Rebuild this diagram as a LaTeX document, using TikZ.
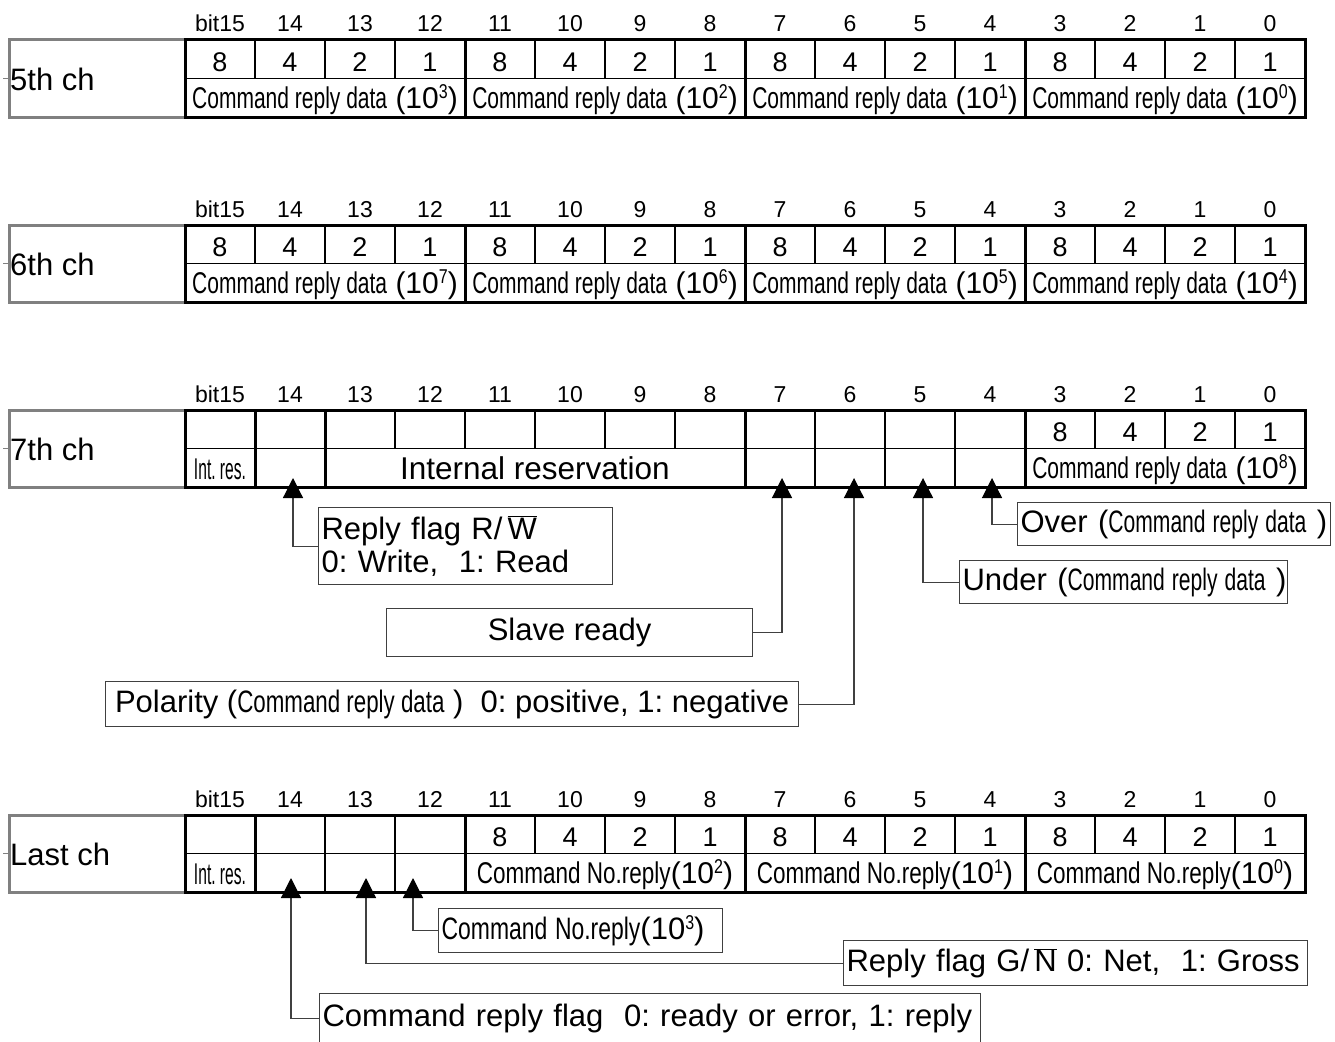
\documentclass[tikz,border=0pt]{standalone}
\usepackage{fontspec}
\setmainfont{Liberation Sans}
\usepackage{graphicx}
\usetikzlibrary{arrows.meta}
\definecolor{chgray}{RGB}{128,128,128}
\definecolor{callgray}{RGB}{64,64,64}
\frenchspacing
\newcommand{\cnd}[2][0.7]{\scalebox{#1}[1]{#2}}
\newcommand{\sups}[1]{\raisebox{10pt}{\fontsize{20}{20}\selectfont\cnd[0.8]{#1}}}
\newcommand{\crd}[1]{\cnd{Command reply data} (10\sups{#1})}
\newcommand{\cnr}[1]{\cnd[0.75]{Command No.reply}(10\sups{#1})}

\begin{document}
\begin{tikzpicture}[x=1pt, y=-1pt,
  every node/.style={inner sep=0pt},
  thickline/.style={line width=3pt},
  cellline/.style={line width=1.2pt},
  chbox/.style={draw=chgray, line width=3pt},
  chlabel/.style={anchor=base west, font=\fontsize{31}{36}\selectfont},
  bitno/.style={anchor=base, font=\fontsize{23}{26}\selectfont},
  digit/.style={anchor=base, font=\fontsize{27}{30}\selectfont},
  field/.style={anchor=base, font=\fontsize{30}{34}\selectfont},
  note/.style={draw=callgray, line width=1.2pt, anchor=north west, inner xsep=3pt,
    font=\fontsize{31}{33}\selectfont},
  pointer/.style={draw=callgray, line width=1.2pt, -{Triangle[width=20pt,length=20pt,color=black]}}]
  \useasboundingbox (0,0) rectangle (1335,1041);

  % common part of the four channel rows
  \foreach \ry/\nm/\lab in {40/r5/5th ch,225/r6/6th ch,410/r7/7th ch,815/rl/Last ch}{
    \draw[chbox] (185,\ry) -- (9,\ry) -- (9,\ry+77) -- (185,\ry+77);
    \draw[chbox, line width=1pt] (3,\ry+38.5) -- (9,\ry+38.5);
    \node[chlabel] (\nm) at (10,\ry+50) {\lab};
    \foreach \b [count=\i from 0] in {bit15,14,13,12,11,10,9,8,7,6,5,4,3,2,1,0}
      \node[bitno] (\nm-n\i) at (220+70*\i,\ry-8) {\b};
    \foreach \i in {1,...,15}
      \draw[cellline] (185+70*\i,\ry) -- (185+70*\i,\ry+38.5);
    \draw[cellline] (185,\ry+38.5) -- (1305,\ry+38.5);
  }

  % 5th ch and 6th ch
  \foreach \ry/\nm/\hi in {40/r5/3,225/r6/7}{
    \foreach \g [count=\k from 0] in {185,465,745,1025}{
      \pgfmathtruncatemacro\ex{\hi-\k}
      \node[field] (\nm-f\k) at (\g+140,\ry+68) {\crd{\ex}};
      \foreach \v [count=\j from 0] in {8,4,2,1}
        \node[digit] (\nm-d\k-\j) at (\g+35+70*\j,\ry+31) {\v};
    }
    \foreach \x in {465,745,1025}
      \draw[thickline] (\x,\ry) -- (\x,\ry+77);
    \draw[thickline] (185,\ry) rectangle (1305,\ry+77);
  }

  % 7th ch
  \foreach \v [count=\j from 0] in {8,4,2,1}
    \node[digit] (r7-d\j) at (1060+70*\j,441) {\v};
  \foreach \x in {815,885,955}
    \draw[cellline] (\x,448.5) -- (\x,487);
  \foreach \x in {255,325,745,1025}
    \draw[thickline] (\x,410) -- (\x,487);
  \draw[thickline] (185,410) rectangle (1305,487);
  \node[field] (r7-ir) at (220,479) {\cnd[0.52]{Int. res.}};
  \node[field, font=\fontsize{31.5}{33}\selectfont] (r7-res) at (535,479) {Internal reservation};
  \node[field] (r7-f) at (1165,478) {\crd{8}};

  % last ch
  \foreach \g [count=\k from 0] in {465,745,1025}{
    \pgfmathtruncatemacro\ex{2-\k}
    \node[field] (rl-f\k) at (\g+140,883) {\cnr{\ex}};
    \foreach \v [count=\j from 0] in {8,4,2,1}
      \node[digit] (rl-d\k-\j) at (\g+35+70*\j,846) {\v};
  }
  \foreach \x in {325,395}
    \draw[cellline] (\x,853.5) -- (\x,892);
  \foreach \x in {255,465,745,1025}
    \draw[thickline] (\x,815) -- (\x,892);
  \draw[thickline] (185,815) rectangle (1305,892);
  \node[field] (rl-ir) at (220,884) {\cnd[0.52]{Int. res.}};

  % arrow targets
  \coordinate (r7-p14) at (293,478);
  \coordinate (r7-p7) at (782,478);
  \coordinate (r7-p6) at (854,478);
  \coordinate (r7-p5) at (923,478);
  \coordinate (r7-p4) at (992,478);
  \coordinate (rl-p14) at (291,878);
  \coordinate (rl-p13) at (366,878);
  \coordinate (rl-p12) at (413,878);

  % notes of the 7th ch
  \node[note, minimum height=77pt, text width=288pt, align=left] (rw) at (318,507)
    {\mbox{Reply flag R/\,$\overline{\mbox{W}}$}\\\mbox{0: Write,\ \ 1: Read}};
  \node[note, minimum width=366pt, minimum height=48pt] (slave) at (386,608) {Slave ready};
  \node[note, minimum width=693pt, minimum height=45pt] (pol) at (105,681)
    {Polarity (\cnd[0.72]{Command reply data} )\ \ 0: positive, 1: negative};
  \node[note, minimum height=43pt, text width=322pt, align=left] (under) at (959,560)
    {\mbox{Under (\cnd[0.68]{Command reply data} )}};
  \node[note, minimum height=43pt, text width=307pt, align=left] (over) at (1017,502)
    {\mbox{Over (\cnd[0.68]{Command reply data} )}};

  \draw[pointer] (rw.west) -| (r7-p14);
  \draw[pointer] (slave.east) -| (r7-p7);
  \draw[pointer] (pol.east) -| (r7-p6);
  \draw[pointer] (under.west) -| (r7-p5);
  \draw[pointer] (over.west) -| (r7-p4);

  % notes of the last ch
  \node[note, minimum height=44pt, text width=278pt, align=left] (cn3) at (438,908)
    {\mbox{\cnd[0.74]{Command No.reply}(10\sups{3})}};
  \node[note, minimum height=45pt, text width=458pt, align=left] (gn) at (843,940)
    {\mbox{Reply flag G/\,$\overline{\mbox{N}}$ 0: Net,\ \ 1: Gross}};
  \node[note, minimum height=50pt, text width=655pt, align=left] (crf) at (319,993)
    {\mbox{Command reply flag\ \ 0: ready or error, 1: reply}};

  \draw[pointer] (cn3.west) -| (rl-p12);
  \draw[pointer] (gn.west) -| (rl-p13);
  \draw[pointer] (crf.west) -| (rl-p14);
\end{tikzpicture}
\end{document}
